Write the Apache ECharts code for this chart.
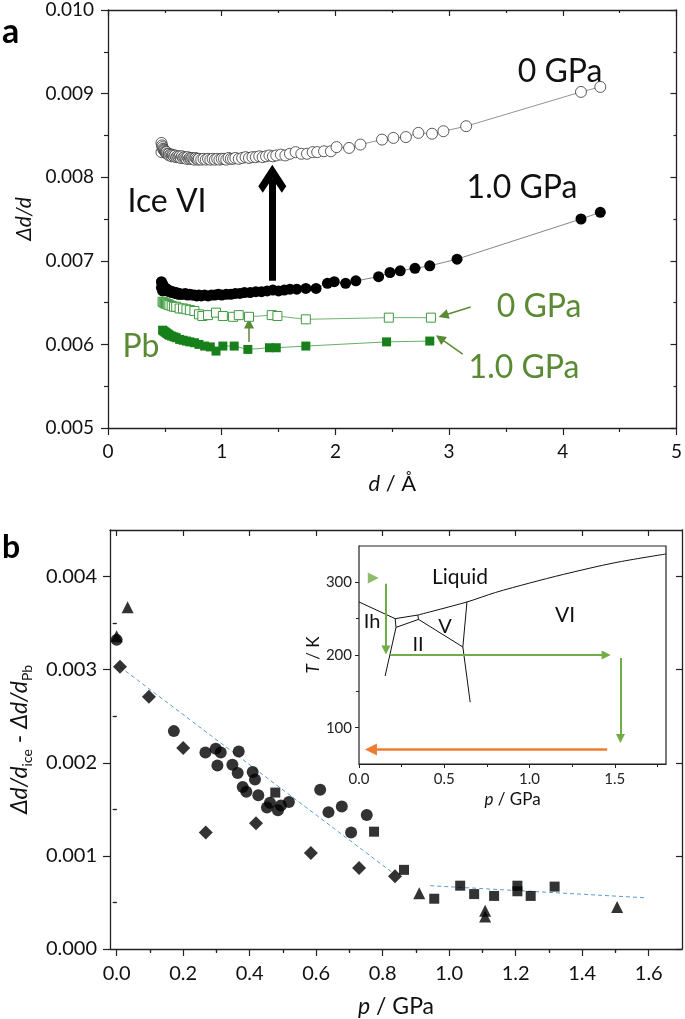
<!DOCTYPE html>
<html>
<head>
<meta charset="utf-8">
<script src="https://cdn.jsdelivr.net/npm/echarts@6/dist/echarts.min.js"></script>
<style>
  html, body { margin: 0; padding: 0; background: #fff; }
  #main { width: 685px; height: 1019px; }
</style>
</head>
<body>
<div id="main"></div>
<script>
// ---- panel a: peak broadening vs d-spacing ----
var ice0GPaD = [0.47,0.47,0.475,0.48,0.485,0.49,0.495,0.5,0.505,0.51,0.515,0.52,0.53,0.535,0.54,0.55,0.56,0.565,0.57,0.58,0.59,0.6,0.61,0.62,0.63,0.64,0.65,0.66,0.67,0.68,0.69,0.7,0.71,0.72,0.73,0.74,0.75,0.76,0.77,0.78,0.79,0.8,0.82,0.84,0.86,0.88,0.9,0.92,0.94,0.96,0.98,1.0,1.02,1.04,1.06,1.08,1.1,1.12,1.15,1.18,1.21,1.24,1.27,1.3,1.33,1.36,1.39,1.42,1.45,1.48,1.52,1.56,1.6,1.65,1.7,1.75,1.8,1.84,1.9,1.96,2.01,2.12,2.22,2.41,2.51,2.62,2.73,2.85,2.95,3.15,4.16,4.33];
var ice0GPaVal = [0.00841,0.0083,0.00838,0.00836,0.00834,0.00833,0.00832,0.00831,0.0083,0.00829,0.0083,0.00828,0.00827,0.00828,0.00826,0.00827,0.00825,0.00827,0.00826,0.00825,0.00826,0.00824,0.00825,0.00824,0.00825,0.00823,0.00825,0.00823,0.00824,0.00823,0.00822,0.00824,0.00822,0.00823,0.00822,0.00823,0.00822,0.00821,0.00823,0.00822,0.00821,0.00822,0.00821,0.00822,0.00821,0.00822,0.00821,0.00822,0.00821,0.00822,0.00821,0.00822,0.00822,0.00821,0.00823,0.00822,0.00822,0.00823,0.00822,0.00823,0.00824,0.00823,0.00824,0.00824,0.00825,0.00824,0.00825,0.00826,0.00825,0.00826,0.00827,0.00826,0.00828,0.0083,0.00828,0.00828,0.0083,0.0083,0.00831,0.00831,0.00836,0.00835,0.00839,0.00845,0.00847,0.00848,0.00853,0.00852,0.00855,0.00861,0.00902,0.00908];
var ice1GPaD = [0.47,0.47,0.475,0.48,0.48,0.485,0.49,0.495,0.5,0.505,0.51,0.52,0.53,0.54,0.55,0.56,0.57,0.58,0.59,0.6,0.61,0.62,0.63,0.64,0.66,0.68,0.7,0.72,0.74,0.76,0.78,0.8,0.82,0.85,0.88,0.91,0.94,0.97,1.0,1.04,1.08,1.12,1.16,1.2,1.25,1.3,1.35,1.4,1.45,1.5,1.55,1.6,1.66,1.74,1.83,1.93,1.99,2.09,2.18,2.38,2.48,2.57,2.7,2.83,3.07,4.16,4.33];
var ice1GPaVal = [0.00675,0.00668,0.00673,0.00672,0.00664,0.0067,0.00669,0.00667,0.00666,0.00667,0.00667,0.00664,0.00665,0.00663,0.00664,0.00662,0.00663,0.00662,0.00661,0.00662,0.00661,0.0066,0.00661,0.0066,0.0066,0.00661,0.00659,0.0066,0.00659,0.00659,0.00658,0.00659,0.00658,0.00659,0.00658,0.00659,0.00659,0.0066,0.00659,0.0066,0.0066,0.00661,0.00661,0.00662,0.00662,0.00663,0.00663,0.00664,0.00665,0.00664,0.00665,0.00666,0.00666,0.00667,0.00667,0.00673,0.00675,0.00673,0.00676,0.00681,0.00686,0.00688,0.00691,0.00694,0.00702,0.0075,0.00758];
var pb0GPaD = [0.48,0.49,0.5,0.51,0.52,0.53,0.54,0.56,0.58,0.6,0.63,0.66,0.69,0.72,0.76,0.8,0.83,0.88,0.95,1.01,1.1,1.15,1.24,1.44,1.49,1.74,2.47,2.84];
var pb0GPaVal = [0.00651,0.0065,0.00649,0.00649,0.00648,0.00648,0.00647,0.00646,0.00645,0.00645,0.00643,0.00643,0.00642,0.00641,0.0064,0.00636,0.00634,0.00635,0.00638,0.00634,0.00633,0.00635,0.00633,0.00635,0.00634,0.0063,0.00632,0.00632];
var pb1GPaD = [0.48,0.49,0.5,0.51,0.52,0.53,0.54,0.56,0.58,0.6,0.63,0.66,0.69,0.72,0.76,0.8,0.85,0.9,0.95,1.01,1.11,1.23,1.42,1.48,1.74,2.45,2.83];
var pb1GPaVal = [0.00617,0.00616,0.00615,0.00614,0.00613,0.00612,0.00611,0.0061,0.00609,0.00608,0.00606,0.00605,0.00604,0.00603,0.00602,0.006,0.00598,0.00597,0.00592,0.00598,0.00598,0.00594,0.00596,0.00596,0.00598,0.00603,0.00604];

// ---- panel b: ice minus Pb broadening vs pressure ----
var circP = [0.0,0.172,0.267,0.298,0.313,0.303,0.348,0.367,0.364,0.409,0.416,0.379,0.39,0.426,0.461,0.452,0.485,0.494,0.518,0.612,0.637,0.677,0.752,0.705];
var circV = [0.00332,0.00234,0.00211,0.00215,0.00211,0.00197,0.00198,0.00212,0.00189,0.0019,0.00182,0.00174,0.00169,0.00165,0.00157,0.00152,0.00149,0.00154,0.00158,0.00171,0.00147,0.00153,0.00144,0.00125];
var squareP = [0.477,0.774,0.864,0.955,1.033,1.075,1.135,1.205,1.205,1.245,1.317];
var squareV = [0.00168,0.00126,0.00085,0.00054,0.00068,0.00059,0.00057,0.00068,0.00062,0.00057,0.00067];
var diamondP = [0.01,0.097,0.2,0.268,0.419,0.584,0.729,0.837];
var diamondV = [0.00303,0.00271,0.00216,0.00125,0.00135,0.00103,0.00087,0.00078];
var triP = [0.033,0.0,0.91,1.108,1.108,1.505];
var triV = [0.00367,0.00336,0.0006,0.00041,0.00035,0.00045];
var fitLowP = [0.01,0.837], fitLowV = [0.00303,0.0008];
var fitHighP = [0.943,1.59], fitHighV = [0.00068,0.00055];

// ---- inset: water phase diagram (p / GPa, T / K) ----
var lineIhLiq = [[0,273],[0.212,250]];
var lineIII = [[0.212,250],[0.345,255],[0.349,249],[0.217,238],[0.212,250]];
var lineIhII = [[0.217,238],[0.153,171]];
var lineMelt = [[0.345,255],[0.633,273],[0.8,286],[1.0,299],[1.2,311],[1.5,327],[1.8,339]];
var lineIIV = [[0.349,249],[0.609,211]];
var lineVVI = [[0.633,273],[0.609,211],[0.652,135]];
var pathGreen = [
  [[0.158,298],[0.158,207]],
  [[0.182,200],[1.449,200]],
  [[1.533,196],[1.533,85]]
];
var pathOrange = [[[1.455,70],[0.07,70]]];
var pathStart = [[0.084,306]];

// tick labels
var bTicksX = [0,0.2,0.4,0.6,0.8,1.0,1.2,1.4,1.6];
var bMinorX = [0.1,0.3,0.5,0.7,0.9,1.1,1.3,1.5];
var bTicksY = [0,0.001,0.002,0.003,0.004];
var bMinorY = [0.0005,0.0015,0.0025,0.0035];
var inTicksX = [0,0.5,1.0,1.5];
var inMinorX = [0.25,0.75,1.25,1.75];
var inTicksY = [100,200,300];
var inMinorY = [150,250];

function zip(a, b) { return a.map(function (x, i) { return [x, b[i]]; }); }

var FONT = 'Lato';
var AX = '#222';
var GREEN_TXT = '#5b8a35';

function ax(o) {
  var base = {
    type: 'value',
    axisLine: { show: true, onZero: false, lineStyle: { color: AX, width: 1.3 } },
    splitLine: { show: false },
    axisTick: { show: true, length: 7, lineStyle: { color: AX, width: 1.2 } },
    axisLabel: { show: false },
    nameTextStyle: { fontFamily: FONT, color: '#111' }
  };
  for (var k in o) base[k] = o[k];
  return base;
}
var tickIn = { show: true, inside: true, length: 6, lineStyle: { color: AX, width: 1.2 } };
var minorOut = { show: true, splitNumber: 2, length: 4, lineStyle: { color: AX, width: 1.2 } };

var chart = echarts.init(document.getElementById('main'), null, { renderer: 'canvas' });

var option = {
  animation: false,
  backgroundColor: '#fff',
  grid: [
    { left: 108, top: 10, width: 570, height: 418 },
    { left: 110, top: 530, width: 572, height: 419 },
    { left: 110, top: 530, width: 572, height: 419 },
    { left: 359, top: 546, width: 307, height: 218, show: true, backgroundColor: '#fff', borderColor: AX, borderWidth: 1.2, z: 3 },
    { left: 359, top: 546, width: 307, height: 218 }
  ],
  xAxis: [
    ax({ gridIndex: 0, position: 'bottom', min: 0, max: 5, interval: 1, minorTick: minorOut,
      axisLabel: { show: true, fontFamily: FONT, fontSize: 19, color: '#111', margin: 14 },
      name: '{i|d} / Å', nameLocation: 'middle', nameGap: 45,
      nameTextStyle: { fontFamily: FONT, fontSize: 22, color: '#111', rich: { i: { fontFamily: FONT, fontSize: 22, fontStyle: 'italic', color: '#111' } } } }),
    ax({ gridIndex: 0, position: 'top', min: 0, max: 5, interval: 1, axisTick: tickIn,
      minorTick: { show: true, splitNumber: 2, length: 3, lineStyle: { color: AX, width: 1.2 } } }),
    ax({ gridIndex: 1, position: 'bottom', min: -0.02, max: 1.7,
      axisTick: { show: true, length: 7, customValues: bTicksX, lineStyle: { color: AX, width: 1.2 } },
      axisLabel: { show: true, customValues: bTicksX, fontFamily: FONT, fontSize: 20, color: '#111', margin: 15,
        formatter: function (v) { return v.toFixed(1); } },
      name: '{i|p} / GPa', nameLocation: 'middle', nameGap: 46,
      nameTextStyle: { fontFamily: FONT, fontSize: 23, color: '#111', rich: { i: { fontFamily: FONT, fontSize: 23, fontStyle: 'italic', color: '#111' } } } }),
    ax({ gridIndex: 1, position: 'top', min: -0.02, max: 1.7,
      axisTick: { show: true, inside: true, length: 6, customValues: bTicksX, lineStyle: { color: AX, width: 1.2 } } }),
    ax({ gridIndex: 2, position: 'bottom', min: -0.02, max: 1.7, axisLine: { show: false },
      axisTick: { show: true, length: 4, customValues: bMinorX, lineStyle: { color: AX, width: 1.2 } } }),
    ax({ gridIndex: 2, position: 'top', min: -0.02, max: 1.7, axisLine: { show: false },
      axisTick: { show: true, inside: true, length: 3, customValues: bMinorX, lineStyle: { color: AX, width: 1.2 } } }),
    ax({ gridIndex: 3, position: 'bottom', min: 0, max: 1.8,
      axisTick: { show: true, length: 4, customValues: inTicksX, lineStyle: { color: AX, width: 1 } },
      axisLabel: { show: true, customValues: inTicksX, fontFamily: FONT, fontSize: 15, color: '#222', margin: 8,
        formatter: function (v) { return v.toFixed(1); } },
      axisLine: { show: true, onZero: false, lineStyle: { color: AX, width: 1 } },
      name: '{i|p} / GPa', nameLocation: 'middle', nameGap: 27,
      nameTextStyle: { fontFamily: FONT, fontSize: 17, color: '#111', rich: { i: { fontFamily: FONT, fontSize: 17, fontStyle: 'italic', color: '#111' } } } }),
    ax({ gridIndex: 4, position: 'bottom', min: 0, max: 1.8, axisLine: { show: false },
      axisTick: { show: true, length: 3, customValues: inMinorX, lineStyle: { color: AX, width: 1 } } })
  ],
  yAxis: [
    ax({ gridIndex: 0, position: 'left', min: 0.005, max: 0.010, interval: 0.001, minorTick: minorOut,
      axisLabel: { show: true, fontFamily: FONT, fontSize: 19, color: '#111', margin: 14,
        formatter: function (v) { return v.toFixed(3); } },
      name: 'Δd/d', nameLocation: 'middle', nameGap: 66,
      nameTextStyle: { fontFamily: FONT, fontSize: 21, fontStyle: 'italic', color: '#111' } }),
    ax({ gridIndex: 0, position: 'right', min: 0.005, max: 0.010, interval: 0.001, axisTick: tickIn,
      minorTick: { show: true, splitNumber: 2, length: 3, lineStyle: { color: AX, width: 1.2 } } }),
    ax({ gridIndex: 1, position: 'left', min: 0, max: 0.0045,
      axisTick: { show: true, length: 7, customValues: bTicksY, lineStyle: { color: AX, width: 1.2 } },
      axisLabel: { show: true, customValues: bTicksY, fontFamily: FONT, fontSize: 20, color: '#111', margin: 13,
        formatter: function (v) { return v.toFixed(3); } },
      name: '{i|Δd/d}{s|ice}{n| - }{i|Δd/d}{s|Pb}', nameLocation: 'middle', nameGap: 76,
      nameTextStyle: { fontFamily: FONT, fontSize: 23, color: '#111', rich: {
        i: { fontFamily: FONT, fontSize: 23, fontStyle: 'italic', color: '#111' },
        n: { fontFamily: FONT, fontSize: 23, color: '#111' },
        s: { fontFamily: FONT, fontSize: 14, color: '#111', padding: [14, 0, 0, 0] } } } }),
    ax({ gridIndex: 1, position: 'right', min: 0, max: 0.0045,
      axisTick: { show: true, inside: true, length: 6, customValues: bTicksY, lineStyle: { color: AX, width: 1.2 } } }),
    ax({ gridIndex: 2, position: 'left', min: 0, max: 0.0045, axisLine: { show: false },
      axisTick: { show: true, length: 4, customValues: bMinorY, lineStyle: { color: AX, width: 1.2 } } }),
    ax({ gridIndex: 2, position: 'right', min: 0, max: 0.0045, axisLine: { show: false },
      axisTick: { show: true, inside: true, length: 3, customValues: bMinorY, lineStyle: { color: AX, width: 1.2 } } }),
    ax({ gridIndex: 3, position: 'left', min: 50, max: 350,
      axisTick: { show: true, length: 4, customValues: inTicksY, lineStyle: { color: AX, width: 1 } },
      axisLabel: { show: true, customValues: inTicksY, fontFamily: FONT, fontSize: 15, color: '#222', margin: 7 },
      axisLine: { show: true, onZero: false, lineStyle: { color: AX, width: 1 } },
      name: '{i|T} / K', nameLocation: 'middle', nameGap: 34,
      nameTextStyle: { fontFamily: FONT, fontSize: 17, color: '#111', rich: { i: { fontFamily: FONT, fontSize: 17, fontStyle: 'italic', color: '#111' } } } }),
    ax({ gridIndex: 4, position: 'left', min: 50, max: 350, axisLine: { show: false },
      axisTick: { show: true, length: 3, customValues: inMinorY, lineStyle: { color: AX, width: 1 } } })
  ],
  series: [
    { name: 'ice 0 GPa', type: 'line', xAxisIndex: 0, yAxisIndex: 0, data: zip(ice0GPaD, ice0GPaVal),
      symbol: 'circle', symbolSize: 11, showAllSymbol: true,
      itemStyle: { color: '#fff', borderColor: '#333', borderWidth: 0.8 },
      lineStyle: { color: '#777', width: 0.8 } },
    { name: 'ice 1.0 GPa', type: 'line', xAxisIndex: 0, yAxisIndex: 0, data: zip(ice1GPaD, ice1GPaVal),
      symbol: 'circle', symbolSize: 11, showAllSymbol: true,
      itemStyle: { color: '#000' }, lineStyle: { color: '#666', width: 0.8 } },
    { name: 'Pb 0 GPa', type: 'line', xAxisIndex: 0, yAxisIndex: 0, data: zip(pb0GPaD, pb0GPaVal),
      symbol: 'rect', symbolSize: 9, showAllSymbol: true,
      itemStyle: { color: '#fff', borderColor: '#3f9a3f', borderWidth: 1 },
      lineStyle: { color: '#4c9e4c', width: 0.8 } },
    { name: 'Pb 1.0 GPa', type: 'line', xAxisIndex: 0, yAxisIndex: 0, data: zip(pb1GPaD, pb1GPaVal),
      symbol: 'rect', symbolSize: 9, showAllSymbol: true,
      itemStyle: { color: '#17801a' }, lineStyle: { color: '#3f9a3f', width: 0.8 } },
    // arrows in panel a
    { type: 'lines', coordinateSystem: 'cartesian2d', xAxisIndex: 0, yAxisIndex: 0, silent: true,
      symbol: ['none', 'path://M50,0 L100,52 L84,68 L50,33 L16,68 L0,52 Z'], symbolSize: [32, 28],
      lineStyle: { color: '#000', width: 7, opacity: 1 },
      data: [{ coords: [[1.445, 0.00676], [1.445, 0.00798]] }] },
    { type: 'lines', coordinateSystem: 'cartesian2d', xAxisIndex: 0, yAxisIndex: 0, silent: true,
      symbol: ['none', 'triangle'], symbolSize: [10, 10],
      lineStyle: { color: '#5b8a35', width: 1.5, opacity: 1 },
      data: [
        { coords: [[1.24, 0.00603], [1.24, 0.00625]] },
        { coords: [[3.19, 0.006447], [2.95, 0.006345]] },
        { coords: [[3.12, 0.005885], [2.92, 0.006075]] }
      ] },

    // panel b scatter
    { name: 'circles', type: 'scatter', xAxisIndex: 2, yAxisIndex: 2, data: zip(circP, circV),
      symbol: 'circle', symbolSize: 12, itemStyle: { color: '#000' } },
    { name: 'squares', type: 'scatter', xAxisIndex: 2, yAxisIndex: 2, data: zip(squareP, squareV),
      symbol: 'rect', symbolSize: 10, itemStyle: { color: '#000' } },
    { name: 'diamonds', type: 'scatter', xAxisIndex: 2, yAxisIndex: 2, data: zip(diamondP, diamondV),
      symbol: 'diamond', symbolSize: 14, itemStyle: { color: '#000' } },
    { name: 'triangles', type: 'scatter', xAxisIndex: 2, yAxisIndex: 2, data: zip(triP, triV),
      symbol: 'triangle', symbolSize: 12, itemStyle: { color: '#000' } },
    { name: 'fit low', type: 'line', xAxisIndex: 2, yAxisIndex: 2, data: zip(fitLowP, fitLowV),
      symbol: 'none', lineStyle: { color: '#5b9bd5', width: 1, type: [4, 3] }, z: 1 },
    { name: 'fit high', type: 'line', xAxisIndex: 2, yAxisIndex: 2, data: zip(fitHighP, fitHighV),
      symbol: 'none', lineStyle: { color: '#5b9bd5', width: 1, type: [4, 3] }, z: 1 },

    // inset
    { type: 'line', xAxisIndex: 6, yAxisIndex: 6, data: lineIhLiq, symbol: 'none', lineStyle: { color: '#111', width: 1 }, z: 4 },
    { type: 'line', xAxisIndex: 6, yAxisIndex: 6, data: lineIII, symbol: 'none', lineStyle: { color: '#111', width: 1 }, z: 4 },
    { type: 'line', xAxisIndex: 6, yAxisIndex: 6, data: lineIhII, symbol: 'none', lineStyle: { color: '#111', width: 1 }, z: 4 },
    { type: 'line', xAxisIndex: 6, yAxisIndex: 6, data: lineMelt, symbol: 'none', smooth: 0.3, lineStyle: { color: '#111', width: 1 }, z: 4 },
    { type: 'line', xAxisIndex: 6, yAxisIndex: 6, data: lineIIV, symbol: 'none', lineStyle: { color: '#111', width: 1 }, z: 4 },
    { type: 'line', xAxisIndex: 6, yAxisIndex: 6, data: lineVVI, symbol: 'none', lineStyle: { color: '#111', width: 1 }, z: 4 },
    { type: 'lines', coordinateSystem: 'cartesian2d', xAxisIndex: 6, yAxisIndex: 6, silent: true, z: 5,
      symbol: ['none', 'triangle'], symbolSize: [11, 9],
      lineStyle: { color: '#70ad47', width: 2, opacity: 1 },
      data: pathGreen.map(function (c) { return { coords: c }; }) },
    { type: 'lines', coordinateSystem: 'cartesian2d', xAxisIndex: 6, yAxisIndex: 6, silent: true, z: 5,
      symbol: ['none', 'triangle'], symbolSize: [13, 12],
      lineStyle: { color: '#ed7d31', width: 2.5, opacity: 1 },
      data: pathOrange.map(function (c) { return { coords: c }; }) },
    { type: 'scatter', xAxisIndex: 6, yAxisIndex: 6, data: pathStart, z: 5,
      symbol: 'triangle', symbolRotate: -90, symbolSize: 11, itemStyle: { color: '#70ad47' } }
  ],
  graphic: [
    { type: 'text', x: 2, y: 32, style: { text: 'a', font: 'bold 34px Lato', fill: '#000', verticalAlign: 'middle' } },
    { type: 'text', x: 2, y: 548, style: { text: 'b', font: 'bold 32px Lato', fill: '#000', verticalAlign: 'middle' } },
    { type: 'text', x: 167, y: 202, style: { text: 'Ice VI', font: '32px Lato', fill: '#111', align: 'center', verticalAlign: 'middle' } },
    { type: 'text', x: 560, y: 72, style: { text: '0 GPa', font: '32px Lato', fill: '#111', align: 'center', verticalAlign: 'middle' } },
    { type: 'text', x: 522, y: 188, style: { text: '1.0 GPa', font: '32px Lato', fill: '#111', align: 'center', verticalAlign: 'middle' } },
    { type: 'text', x: 141, y: 347, style: { text: 'Pb', font: '32px Lato', fill: GREEN_TXT, align: 'center', verticalAlign: 'middle' } },
    { type: 'text', x: 539, y: 307, style: { text: '0 GPa', font: '32px Lato', fill: GREEN_TXT, align: 'center', verticalAlign: 'middle' } },
    { type: 'text', x: 524, y: 368, style: { text: '1.0 GPa', font: '32px Lato', fill: GREEN_TXT, align: 'center', verticalAlign: 'middle' } },
    { type: 'text', x: 460, y: 577, z: 10, style: { text: 'Liquid', font: '21px Lato', fill: '#111', align: 'center', verticalAlign: 'middle' } },
    { type: 'text', x: 372, y: 622, z: 10, style: { text: 'Ih', font: '20px Lato', fill: '#111', align: 'center', verticalAlign: 'middle' } },
    { type: 'text', x: 418, y: 645, z: 10, style: { text: 'II', font: '20px Lato', fill: '#111', align: 'center', verticalAlign: 'middle' } },
    { type: 'text', x: 445, y: 627, z: 10, style: { text: 'V', font: '20px Lato', fill: '#111', align: 'center', verticalAlign: 'middle' } },
    { type: 'text', x: 565, y: 615, z: 10, style: { text: 'VI', font: '21px Lato', fill: '#111', align: 'center', verticalAlign: 'middle' } }
  ]
};
chart.setOption(option);
</script>
</body>
</html>
